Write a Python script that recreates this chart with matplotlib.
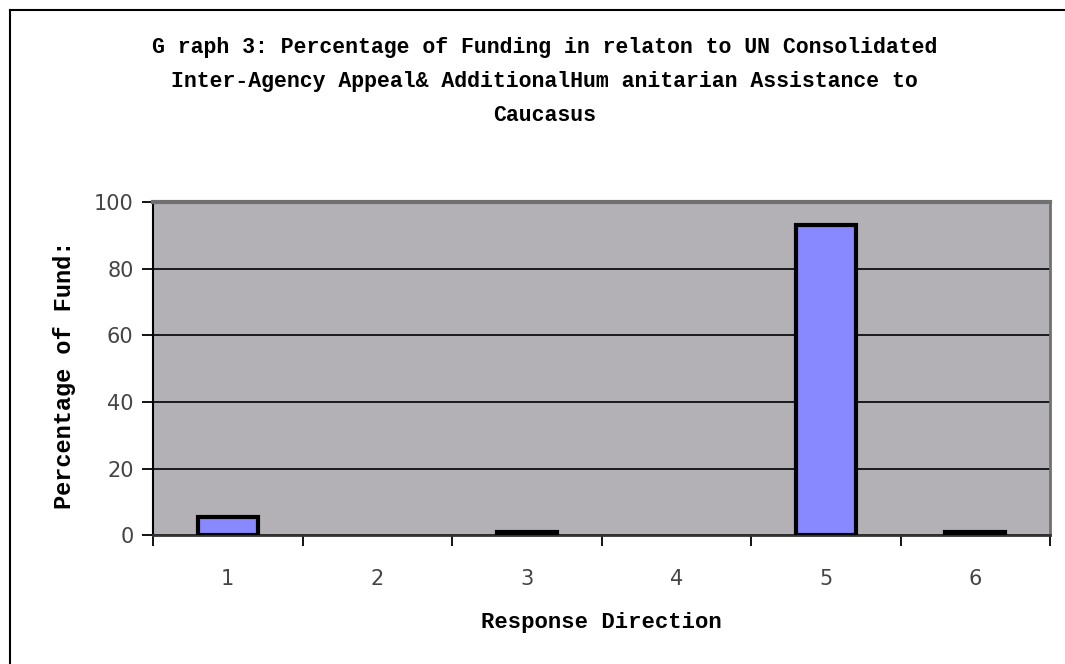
import matplotlib
matplotlib.use("Agg")
import matplotlib.pyplot as plt
from matplotlib.lines import Line2D

# Data
directions = [1, 2, 3, 4, 5, 6]
percent = [5.5, 0, 1, 0, 93, 1]
y_ticks = [0, 20, 40, 60, 80, 100]

title = ("G raph 3: Percentage of Funding in relaton to UN Consolidated\n"
         "Inter-Agency Appeal& AdditionalHum anitarian Assistance to\n"
         "Caucasus")

fig = plt.figure(figsize=(10.65, 6.64), dpi=100)
ax = fig.add_axes([0.1437, 0.194, 0.8423, 0.502])

ax.set_facecolor('#b3b0b6')
# zero-valued bars show no outline in the original
edge_widths = [3 if v > 0 else 0 for v in percent]
ax.bar(directions, percent, width=0.4, color='#8888ff', edgecolor='black',
       linewidth=edge_widths, zorder=3)

ax.set_xlim(0.5, 6.5)
ax.set_ylim(0, 100)
ax.set_yticks(y_ticks)
ax.set_yticklabels([str(v) for v in y_ticks], fontsize=15, color='#444444',
                   family='DejaVu Sans')
ax.yaxis.grid(True, color='black', linewidth=1.2, zorder=1)

# x ticks sit between categories, labels at category centres
ax.set_xticks([0.5 + i for i in range(7)])
ax.set_xticklabels([])
ax.set_xticks(directions, minor=True)
ax.set_xticklabels([str(d) for d in directions], minor=True, fontsize=15,
                   color='#444444', family='DejaVu Sans')
ax.tick_params(axis='x', which='minor', length=0, pad=24)
ax.tick_params(axis='x', which='major', length=8, width=1.3, color='black')
ax.tick_params(axis='y', length=8, width=1.3, color='black', pad=6)

ax.spines['left'].set_color('black')
ax.spines['left'].set_linewidth(1.5)
ax.spines['bottom'].set_color('#333333')
ax.spines['bottom'].set_linewidth(2)
ax.spines['top'].set_color('#707070')
ax.spines['top'].set_linewidth(3)
ax.spines['right'].set_color('#707070')
ax.spines['right'].set_linewidth(2)

ax.set_xlabel('Response Direction', fontsize=16, fontweight='bold',
              family='Liberation Mono', labelpad=17)
ax.set_ylabel('Percentage of Fund:', fontsize=17, fontweight='bold',
              family='Liberation Mono')
ax.yaxis.set_label_coords(-0.086, 0.48)

fig.text(0.511, 0.877, title, ha='center', va='center', fontsize=15.5,
         fontweight='bold', family='Liberation Mono', linespacing=1.8)

# outer chart frame (left and top edges visible)
fig.add_artist(Line2D([0.0094, 0.0094], [0.0, 0.985], color='black',
                      linewidth=1.5, transform=fig.transFigure))
fig.add_artist(Line2D([0.0094, 1.0], [0.985, 0.985], color='black',
                      linewidth=1.5, transform=fig.transFigure))

fig.savefig('out.png', dpi=100)
